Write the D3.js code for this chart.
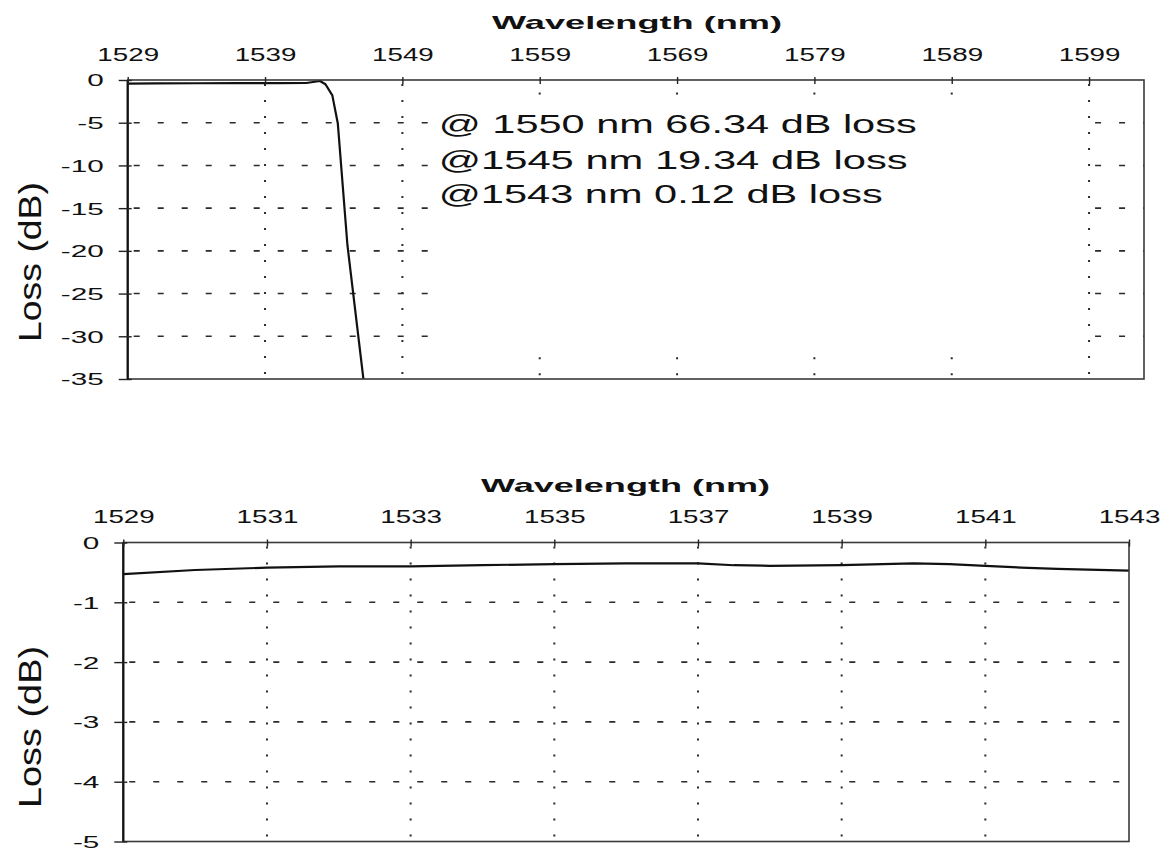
<!DOCTYPE html>
<html>
<head>
<meta charset="utf-8">
<script src="https://cdn.jsdelivr.net/npm/d3@7"></script>
<style>
  html, body { margin: 0; padding: 0; background: #fff; }
  svg { display: block; font-family: "Liberation Sans", Arial, Helvetica, sans-serif; }
  .hgrid { stroke: #2a2a2a; stroke-width: 1.6; stroke-dasharray: 6 18; fill: none; }
  .vgrid { stroke: #2a2a2a; stroke-width: 2; stroke-dasharray: 2 14; fill: none; }
  .curve { stroke: #111; stroke-width: 2.2; fill: none; stroke-linejoin: round; }
  .frame { stroke: #3a3a3a; stroke-width: 1.6; fill: none; }
  .yline { stroke: #111; stroke-width: 2.2; }
  .tick line { stroke: #222; stroke-width: 1.4; }
  .tick text { fill: #111; }
</style>
</head>
<body>
<svg id="chart" width="1171" height="853"></svg>
<script>
// ---- Upper panel: full sweep 1529–1603 nm ----
const topTicksX = [1529, 1539, 1549, 1559, 1569, 1579, 1589, 1599];
const topTicksY = [0, -5, -10, -15, -20, -25, -30, -35];
const topWavelength = [1529, 1531, 1534, 1537, 1540, 1542, 1543, 1543.4, 1543.9, 1544.3, 1545, 1546.2, 1550];
const topLoss       = [-0.42, -0.40, -0.38, -0.37, -0.36, -0.35, -0.12, -0.5, -1.8, -5.1, -19.34, -35.5, -66.34];

// ---- Lower panel: passband detail 1529–1543 nm ----
const bottomTicksX = [1529, 1531, 1533, 1535, 1537, 1539, 1541, 1543];
const bottomTicksY = [0, -1, -2, -3, -4, -5];
const bottomWavelength = [1529, 1530, 1531, 1532, 1533, 1534, 1535, 1536, 1537, 1537.5, 1538, 1539, 1540, 1540.5, 1541, 1541.5, 1542, 1543];
const bottomLoss       = [-0.53, -0.46, -0.42, -0.40, -0.40, -0.38, -0.36, -0.35, -0.35, -0.38, -0.39, -0.38, -0.35, -0.36, -0.39, -0.42, -0.44, -0.47];

// Annotation lines
const notes = ["@ 1550 nm 66.34 dB loss", "@1545 nm 19.34 dB loss", "@1543 nm 0.12 dB loss"];
const xTitle = "Wavelength (nm)";
const yTitle = "Loss (dB)";

const svg = d3.select("#chart");
const fmt = d => String(d);

const panels = [
  {
    id: "top",
    left: 127.7, right: 1144, top: 80, bottom: 379,
    xDomain: [1529, 1603], yDomain: [-35, 0],
    xTicks: topTicksX, yTicks: topTicksY,
    wl: topWavelength, loss: topLoss,
    // dashed rows are interrupted across the annotation area
    hSpans: [[1529, 1551.5], [1599, 1603]],
    vSpans: v => (v >= 1559 && v <= 1589) ? [[-1, -3], [-32, -35]] : [[0, -35]],
    title: { x1: 492, x2: 782, base: 28.5 },
    ylab: { cx: 30, cy: 262, len: 160 }
  },
  {
    id: "bottom",
    left: 123.3, right: 1129, top: 542.5, bottom: 841.5,
    xDomain: [1529, 1543], yDomain: [-5, 0],
    xTicks: bottomTicksX, yTicks: bottomTicksY,
    wl: bottomWavelength, loss: bottomLoss,
    hSpans: [[1529, 1543]],
    vSpans: v => [[0, -5]],
    title: { x1: 481, x2: 770, base: 492 },
    ylab: { cx: 30, cy: 727, len: 162 }
  }
];

const SX_TICK = 1.5;   // horizontal stretch of x tick labels
const SY_TICK = 1.8;   // horizontal stretch of y tick labels

panels.forEach(p => {
  const x = d3.scaleLinear().domain(p.xDomain).range([p.left, p.right]);
  const y = d3.scaleLinear().domain(p.yDomain).range([p.bottom, p.top]);
  const g = svg.append("g").attr("class", "panel-" + p.id);

  // horizontal dashed grid
  p.yTicks.filter(v => v !== p.yDomain[0] && v !== p.yDomain[1]).forEach(v => {
    p.hSpans.forEach(([a, b]) => {
      g.append("line").attr("class", "hgrid")
        .attr("x1", x(a) + 6).attr("x2", x(b)).attr("y1", y(v)).attr("y2", y(v));
    });
  });

  // vertical dotted grid
  p.xTicks.slice(1).forEach(v => {
    if (x(v) >= p.right - 1) return;
    p.vSpans(v).forEach(([a, b]) => {
      g.append("line").attr("class", "vgrid")
        .attr("x1", x(v)).attr("x2", x(v)).attr("y1", y(a) + 4).attr("y2", y(b));
    });
  });

  // response curve, clipped to the plot area
  const clipId = "clip-" + p.id;
  svg.append("defs").append("clipPath").attr("id", clipId)
    .append("rect").attr("x", p.left).attr("y", p.top - 2)
    .attr("width", p.right - p.left).attr("height", p.bottom - p.top + 2);
  const line = d3.line().x((d, i) => x(p.wl[i])).y(d => y(d));
  g.append("path").attr("class", "curve").attr("clip-path", `url(#${clipId})`)
    .attr("d", line(p.loss));

  // frame
  g.append("rect").attr("class", "frame")
    .attr("x", p.left).attr("y", p.top)
    .attr("width", p.right - p.left).attr("height", p.bottom - p.top);
  g.append("line").attr("class", "yline")
    .attr("x1", p.left).attr("x2", p.left).attr("y1", p.top).attr("y2", p.bottom);

  // top axis
  const xa = g.append("g").attr("transform", `translate(0,${p.top})`)
    .call(d3.axisTop(x).tickValues(p.xTicks).tickFormat(fmt).tickSize(6));
  xa.select(".domain").remove();
  xa.selectAll(".tick line").attr("y1", -3).attr("y2", 4);
  xa.selectAll(".tick text")
    .attr("y", -19.3).attr("dy", 0)
    .attr("font-size", 18.5)
    .attr("transform", `scale(${SX_TICK},1)`);

  // left axis
  const ya = g.append("g").attr("transform", `translate(${p.left},0)`)
    .call(d3.axisLeft(y).tickValues(p.yTicks).tickFormat(fmt).tickSize(9));
  ya.select(".domain").remove();
  ya.selectAll(".tick line").attr("x1", -9).attr("x2", 4);
  ya.selectAll(".tick text")
    .attr("x", -24 / SY_TICK).attr("dy", "0.36em")
    .attr("font-size", 16.5)
    .attr("transform", `scale(${SY_TICK},1)`);

  // x axis title
  g.append("text")
    .attr("x", p.title.x1).attr("y", p.title.base)
    .attr("font-size", 18.5).attr("font-weight", "bold").attr("fill", "#111")
    .attr("textLength", p.title.x2 - p.title.x1).attr("lengthAdjust", "spacingAndGlyphs")
    .text(xTitle);

  // y axis title
  g.append("g").attr("transform", `translate(${p.ylab.cx},${p.ylab.cy}) scale(1.45,1) rotate(-90)`)
    .append("text")
    .attr("text-anchor", "middle").attr("dy", "0.36em")
    .attr("font-size", 21).attr("fill", "#111")
    .attr("textLength", p.ylab.len).attr("lengthAdjust", "spacingAndGlyphs")
    .text(yTitle);

  // annotation block (upper panel only)
  if (p.id === "top") {
    const noteWidths = [478, 469, 444];
    const noteBase = [133, 168.5, 203];
    notes.forEach((t, i) => {
      g.append("text")
        .attr("x", 438.7).attr("y", noteBase[i])
        .attr("font-size", 26).attr("fill", "#111")
        .attr("textLength", noteWidths[i]).attr("lengthAdjust", "spacingAndGlyphs")
        .text(t);
    });
  }
});
</script>
</body>
</html>
